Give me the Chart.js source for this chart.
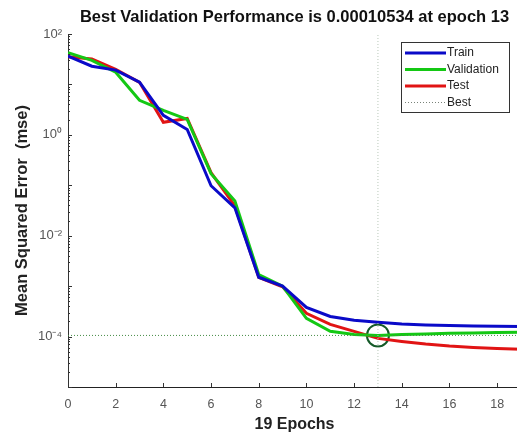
<!DOCTYPE html>
<html>
<head>
<meta charset="utf-8">
<script src="https://cdn.jsdelivr.net/npm/chart.js@4.4.1/dist/chart.umd.min.js"></script>
<style>
  html, body { margin: 0; padding: 0; background: #fff; overflow: hidden; }
  #wrap { width: 517px; height: 434px; overflow: hidden; }
</style>
</head>
<body>
<div id="wrap"><canvas id="perfChart" width="522" height="434"></canvas></div>
<script>
// epochs 0..19
const epochs = [0,1,2,3,4,5,6,7,8,9,10,11,12,13,14,15,16,17,18,19];
const trainMse = [36.5, 23, 19.2, 11.1, 2.43, 1.28, 0.098, 0.0358, 0.0015, 0.001,
                  3.8e-4, 2.5e-4, 2.1e-4, 1.92e-4, 1.78e-4, 1.7e-4, 1.66e-4, 1.62e-4, 1.6e-4, 1.58e-4];
const validMse = [42.4, 30, 17.5, 4.84, 3.06, 2.03, 0.17, 0.049, 0.0017, 0.001,
                  2.3e-4, 1.27e-4, 1.1e-4, 1.0534e-4, 1.1e-4, 1.13e-4, 1.16e-4, 1.18e-4, 1.2e-4, 1.22e-4];
const testMse = [35.3, 31.8, 20, 11, 1.77, 2.12, 0.178, 0.039, 0.0015, 9.7e-4,
                 2.9e-4, 1.75e-4, 1.27e-4, 9.2e-5, 8.0e-5, 7.1e-5, 6.5e-5, 6.1e-5, 5.8e-5, 5.6e-5];
const bestEpoch = 13;
const bestPerf = 1.0534e-4;
const xTicks = [0,2,4,6,8,10,12,14,16,18];
const yTicks = [1e-4, 1e-2, 1, 100];
const supers = {'-':'\u207B','0':'\u2070','1':'\u00B9','2':'\u00B2','3':'\u00B3','4':'\u2074','5':'\u2075'};

const FONT = "'Liberation Sans', Arial, sans-serif";

function pts(ys) {
  return epochs.map((e, i) => ({x: e, y: ys[i]}));
}

// inside tick marks + legend
const extras = {
  id: 'extras',
  afterDatasetsDraw(chart) {
    const ctx = chart.ctx;
    const xs = chart.scales.x, ys = chart.scales.y;
    const a = chart.chartArea;
    ctx.save();
    ctx.strokeStyle = '#333';
    ctx.lineWidth = 1;
    ctx.beginPath();
    xTicks.forEach(v => {
      const px = Math.round(xs.getPixelForValue(v)) + 0.5;
      ctx.moveTo(px, a.bottom);
      ctx.lineTo(px, a.bottom - 4);
    });
    for (let d = -5; d <= 1; d++) {
      for (let m = 1; m <= 9; m++) {
        const v = m * Math.pow(10, d);
        const py = Math.round(ys.getPixelForValue(v)) + 0.5;
        const len = (m === 1) ? 4 : 2;
        ctx.moveTo(a.left, py);
        ctx.lineTo(a.left + len, py);
      }
    }
    const ptop = Math.round(ys.getPixelForValue(100)) + 0.5;
    ctx.moveTo(a.left, ptop);
    ctx.lineTo(a.left + 4, ptop);
    ctx.stroke();

    // legend
    const items = chart.data.datasets.filter(ds => ds.legendOrder).sort((p, q) => p.legendOrder - q.legendOrder);
    const bx = a.right - 120, by = a.top + 8, bw = 108, bh = 70;
    ctx.fillStyle = '#fff';
    ctx.fillRect(bx, by, bw, bh);
    ctx.strokeStyle = '#333';
    ctx.strokeRect(bx + 0.5, by + 0.5, bw, bh);
    ctx.font = '12px ' + FONT;
    ctx.textBaseline = 'middle';
    items.forEach((ds, i) => {
      const yy = by + 11 + i * 16.5;
      ctx.beginPath();
      ctx.strokeStyle = ds.legendColor || ds.borderColor;
      ctx.lineWidth = ds.borderWidth;
      ctx.setLineDash(ds.borderDash || []);
      ctx.moveTo(bx + 4, yy);
      ctx.lineTo(bx + 45, yy);
      ctx.stroke();
      ctx.setLineDash([]);
      ctx.fillStyle = '#222';
      ctx.fillText(ds.label, bx + 46, yy);
    });
    ctx.restore();
  }
};

const lineBase = {showLine: true, pointRadius: 0, borderWidth: 3, tension: 0, fill: false};

new Chart(document.getElementById('perfChart'), {
  type: 'scatter',
  data: {
    datasets: [
      Object.assign({label: 'Best', data: [{x: bestEpoch, y: 1e-5}, {x: bestEpoch, y: 100}],
        borderColor: 'rgb(185,200,185)', legendColor: 'rgb(120,130,120)', borderDash: [1, 2], legendOrder: 4}, lineBase, {borderWidth: 1}),
      Object.assign({label: 'BestH', data: [{x: 0, y: bestPerf}, {x: 19, y: bestPerf}],
        borderColor: 'rgb(70,140,70)', borderDash: [1, 2]}, lineBase, {borderWidth: 1}),
      Object.assign({label: 'Train', data: pts(trainMse), borderColor: 'rgb(10,10,200)', legendOrder: 1}, lineBase),
      Object.assign({label: 'Validation', data: pts(validMse), borderColor: 'rgb(20,200,20)', legendOrder: 2}, lineBase),
      Object.assign({label: 'Test', data: pts(testMse), borderColor: 'rgb(225,20,20)', legendOrder: 3}, lineBase),
      {label: 'BestPoint', data: [{x: bestEpoch, y: bestPerf}], showLine: false,
        pointRadius: 11, pointBorderWidth: 2, pointBorderColor: 'rgb(20,90,40)',
        pointBackgroundColor: 'rgba(0,0,0,0)'}
    ]
  },
  options: {
    responsive: false,
    animation: false,
    devicePixelRatio: 1,
    layout: {autoPadding: false, padding: {left: 0, top: 0, right: 1, bottom: 0}},
    plugins: {
      legend: {display: false},
      tooltip: {enabled: false},
      title: {
        display: true,
        fullSize: false,
        text: 'Best Validation Performance is 0.00010534 at epoch 13',
        color: '#111',
        font: {family: FONT, size: 16.5, weight: 'bold'},
        padding: {top: 8, bottom: 6.2}
      }
    },
    scales: {
      x: {
        type: 'linear', min: 0, max: 19,
        grid: {display: false, drawTicks: false},
        border: {display: true, color: '#222', width: 1},
        afterBuildTicks: s => { s.ticks = xTicks.map(v => ({value: v})); },
        afterFit: s => { s.height = 47; },
        ticks: {color: '#555', font: {family: FONT, size: 12.5}, padding: 10, maxRotation: 0},
        title: {display: true, text: '19 Epochs', color: '#222',
          font: {family: FONT, size: 16, weight: 'bold'}, padding: {top: 0, bottom: 0}}
      },
      y: {
        type: 'logarithmic', min: 1e-5, max: 100,
        grid: {display: false, drawTicks: false},
        border: {display: true, color: '#333', width: 1},
        afterBuildTicks: s => { s.ticks = yTicks.map(v => ({value: v})); },
        afterFit: s => { s.width = 68; },
        ticks: {
          color: '#555', font: {family: FONT, size: 13}, padding: 6,
          callback: v => '10' + String(Math.round(Math.log10(v))).split('').map(c => supers[c]).join('')
        },
        title: {display: true, text: 'Mean Squared Error  (mse)', color: '#222',
          font: {family: FONT, size: 16.5, weight: 'bold'}, padding: {top: 13, bottom: 0}}
      }
    }
  },
  plugins: [extras]
});
</script>
</body>
</html>
